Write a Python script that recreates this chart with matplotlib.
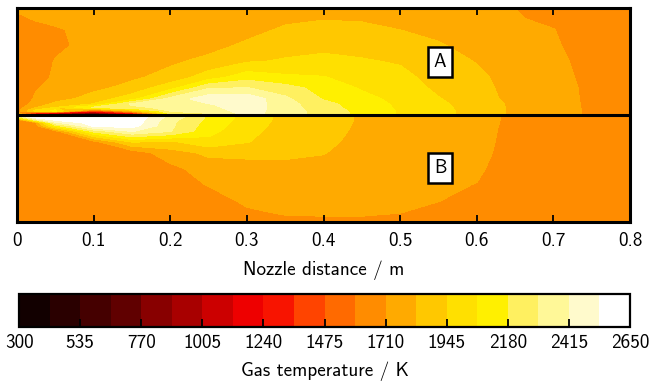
import numpy as np
import matplotlib
matplotlib.use("Agg")
import matplotlib.pyplot as plt

plt.rcParams['font.family'] = ['cmss10', 'DejaVu Sans']
plt.rcParams['axes.unicode_minus'] = False
plt.rcParams['axes.formatter.use_mathtext'] = False

# ****Grid: axial position (m) and normalised radius****
x_pos = [0, 0.025, 0.05, 0.1, 0.15, 0.2, 0.25, 0.3, 0.35, 0.4, 0.45,
         0.5, 0.55, 0.6, 0.65, 0.7, 0.75, 0.8]
r_pos = [0, 0.02, 0.04, 0.07, 0.1, 0.15, 0.25, 0.35, 0.5, 0.65, 0.8, 0.9, 1.0]

# ****Gas temperature (K), case A (upper half), one row per radius****
temp_a = [
    [1900, 1240, 1005,  711, 1240, 2121, 2274, 2450, 2356, 2251, 2145, 2051, 1980, 1898, 1804, 1769, 1687, 1651],
    [1750, 1300, 1120,  770, 1300, 2239, 2303, 2462, 2356, 2251, 2145, 2051, 1980, 1898, 1804, 1769, 1687, 1651],
    [1651, 1980, 2086, 1357, 1830, 2310, 2345, 2470, 2356, 2245, 2139, 2051, 1980, 1898, 1804, 1769, 1687, 1651],
    [1651, 1816, 1933, 2192, 2239, 2350, 2380, 2480, 2350, 2227, 2127, 2045, 1975, 1892, 1804, 1766, 1687, 1651],
    [1651, 1745, 1863, 1951, 2321, 2368, 2403, 2486, 2345, 2215, 2121, 2039, 1969, 1886, 1804, 1763, 1687, 1651],
    [1651, 1722, 1769, 1886, 2004, 2333, 2486, 2498, 2321, 2168, 2098, 2027, 1951, 1875, 1792, 1757, 1687, 1651],
    [1651, 1705, 1734, 1792, 1875, 2016, 2286, 2303, 2227, 2133, 2051, 2004, 1922, 1863, 1786, 1751, 1687, 1651],
    [1651, 1680, 1722, 1757, 1804, 1875, 2004, 2133, 2086, 2068, 2016, 1980, 1898, 1851, 1780, 1745, 1681, 1651],
    [1651, 1651, 1716, 1745, 1769, 1804, 1863, 1933, 1957, 1980, 1957, 1933, 1875, 1822, 1769, 1734, 1675, 1651],
    [1651, 1651, 1687, 1745, 1757, 1769, 1780, 1851, 1898, 1910, 1898, 1886, 1839, 1780, 1757, 1722, 1663, 1651],
    [1651, 1663, 1698, 1745, 1745, 1757, 1757, 1780, 1845, 1857, 1851, 1825, 1792, 1757, 1739, 1712, 1651, 1651],
    [1680, 1722, 1734, 1745, 1745, 1745, 1745, 1757, 1800, 1822, 1816, 1792, 1769, 1745, 1722, 1675, 1651, 1651],
    [1730, 1745, 1745, 1740, 1745, 1734, 1734, 1745, 1769, 1780, 1780, 1769, 1757, 1734, 1708, 1651, 1645, 1645],
]

# ****Gas temperature (K), case B (lower half)****
temp_b = [
    [2556, 2627, 2627, 2638, 2638, 2380, 2157, 2016, 1910, 1869, 1816, 1792, 1769, 1745, 1687, 1660, 1651, 1651],
    [2068, 2591, 2627, 2638, 2638, 2375, 2157, 2016, 1910, 1869, 1816, 1792, 1769, 1745, 1687, 1660, 1651, 1651],
    [1698, 2350, 2590, 2630, 2627, 2340, 2150, 2012, 1910, 1869, 1816, 1792, 1769, 1745, 1687, 1660, 1651, 1651],
    [1651, 1700, 2380, 2600, 2610, 2325, 2133, 2004, 1904, 1866, 1815, 1791, 1768, 1744, 1686, 1660, 1651, 1651],
    [1651, 1663, 2121, 2556, 2580, 2321, 2121, 1998, 1898, 1863, 1813, 1790, 1766, 1742, 1685, 1660, 1651, 1651],
    [1651, 1651, 1663, 2215, 2421, 2303, 2098, 1980, 1892, 1857, 1810, 1786, 1763, 1740, 1683, 1660, 1651, 1651],
    [1651, 1651, 1651, 1663, 1951, 1922, 2027, 1951, 1875, 1845, 1804, 1780, 1757, 1737, 1680, 1660, 1651, 1651],
    [1651, 1651, 1651, 1651, 1640, 1780, 1851, 1851, 1845, 1831, 1792, 1775, 1745, 1734, 1675, 1660, 1651, 1651],
    [1651, 1651, 1651, 1651, 1651, 1675, 1769, 1792, 1804, 1804, 1775, 1763, 1734, 1722, 1668, 1660, 1651, 1651],
    [1651, 1651, 1651, 1651, 1651, 1651, 1716, 1757, 1769, 1775, 1757, 1745, 1722, 1708, 1660, 1655, 1651, 1651],
    [1651, 1651, 1651, 1651, 1651, 1651, 1663, 1728, 1745, 1745, 1739, 1728, 1712, 1675, 1651, 1651, 1651, 1651],
    [1651, 1651, 1651, 1651, 1651, 1651, 1651, 1698, 1722, 1724, 1724, 1714, 1687, 1663, 1651, 1651, 1651, 1651],
    [1651, 1651, 1651, 1651, 1651, 1651, 1651, 1663, 1687, 1692, 1692, 1687, 1663, 1651, 1651, 1651, 1651, 1651],
]

# ****Colour scale****
t_min, t_max, n_levels = 300, 2650, 20
tick_labels = [300, 535, 770, 1005, 1240, 1475, 1710, 1945, 2180, 2415, 2650]
level_colors = ['#120000', '#2a0000', '#450000', '#600000', '#880000',
                '#a80000', '#cc0000', '#ee0000', '#f81400', '#ff4400',
                '#ff6a00', '#ff8c00', '#ffaa00', '#ffc800', '#ffe000',
                '#fff000', '#fff060', '#fff898', '#fffacc', '#ffffff']
levels = np.linspace(t_min, t_max, n_levels + 1)

x = np.array(x_pos)
r = np.array(r_pos)

fig = plt.figure(figsize=(6.62, 3.82), dpi=100)
ax = fig.add_axes([0.0257, 0.419, 0.926, 0.560])
cax = fig.add_axes([0.0287, 0.145, 0.923, 0.085])

cs = ax.contourf(x, r, np.array(temp_a), levels=levels, colors=level_colors)
cs_b = ax.contourf(x, -r, np.array(temp_b), levels=levels, colors=level_colors)
for c in (cs, cs_b):
    c.set_edgecolor('face')
    c.set_linewidth(0.4)

ax.axhline(0, color='black', lw=2.2)
ax.set_xlim(0, 0.8)
ax.set_ylim(-1, 1)
ax.set_yticks([])
ax.set_xticks(np.arange(0, 0.81, 0.1))
ax.set_xticklabels(['0', '0.1', '0.2', '0.3', '0.4', '0.5', '0.6', '0.7', '0.8'])
ax.tick_params(axis='x', direction='in', top=True, bottom=True, length=5,
               width=1.3, labelsize=13.8, pad=7.5)
for sp in ax.spines.values():
    sp.set_linewidth(2.2)
ax.set_xlabel('Nozzle distance / m', fontsize=13.8, labelpad=7)

box = dict(boxstyle='square,pad=0.3', facecolor='white', edgecolor='black', lw=1.8)
ax.text(0.552, 0.495, 'A', ha='center', va='center', fontsize=13.5, bbox=box)
ax.text(0.552, -0.495, 'B', ha='center', va='center', fontsize=13.5, bbox=box)

cb = fig.colorbar(cs, cax=cax, orientation='horizontal', ticks=tick_labels)
cb.outline.set_linewidth(1.6)
cax.set_xticklabels([str(t) for t in tick_labels])
cax.tick_params(direction='in', length=6, width=1.3, labelsize=13.8, pad=5.5)
cb.set_label('Gas temperature / K', fontsize=13.8, labelpad=7)

fig.savefig('out.png', dpi=100)
